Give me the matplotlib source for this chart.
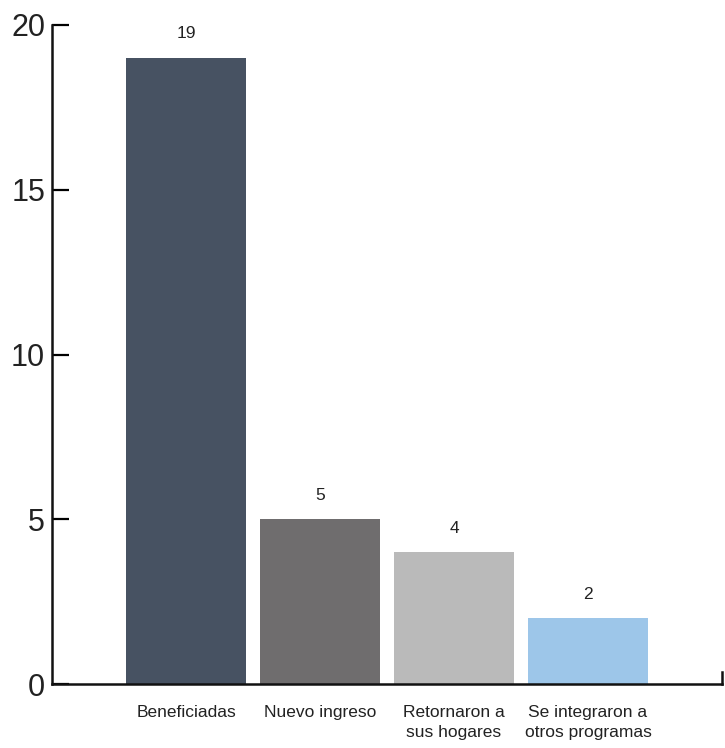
import matplotlib
matplotlib.use("Agg")
import matplotlib.pyplot as plt

categorias = ["Beneficiadas", "Nuevo ingreso", "Retornaron a\nsus hogares", "Se integraron a\notros programas"]
valores = [19, 5, 4, 2]
colores = ["#475262", "#6f6d6e", "#bababa", "#9dc6e9"]
yticks = [0, 5, 10, 15, 20]

plt.rcParams["font.family"] = ["Liberation Sans", "DejaVu Sans"]

fig = plt.figure(figsize=(7.25, 7.48), dpi=100)
ax = fig.add_axes([52 / 725, 64 / 748, 670 / 725, 659 / 748])

x = list(range(len(categorias)))
ax.bar(x, valores, width=0.89, color=colores, zorder=2)
for xi, v in zip(x, valores):
    ax.text(xi, v + 0.5, str(v), ha="center", va="bottom", fontsize=12.5, color="#222222")

ax.set_xlim(-1, 4)
ax.set_ylim(0, 20)
ax.set_yticks(yticks)
ax.set_yticklabels([str(t) for t in yticks], fontsize=22, color="#222222")
ax.set_xticks(x)
ax.set_xticklabels(categorias, fontsize=12.5, color="#222222", linespacing=1.4)
ax.tick_params(axis="y", direction="in", length=12, width=1.6, pad=5)
ax.tick_params(axis="x", length=0, pad=15)

ax.spines["top"].set_visible(False)
for s in ["left", "bottom", "right"]:
    ax.spines[s].set_linewidth(1.8)
    ax.spines[s].set_color("#111111")
ax.spines["right"].set_bounds(0, 0.35)
ax.spines["bottom"].set_zorder(3)

fig.savefig("out.png", dpi=100)
